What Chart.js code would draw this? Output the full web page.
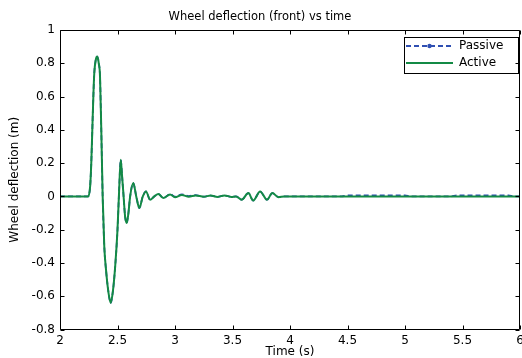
<!DOCTYPE html>
<html><head><meta charset="utf-8">
<script src="https://cdn.jsdelivr.net/npm/chart.js@4.4.0/dist/chart.umd.min.js"></script>
<style>html,body{margin:0;padding:0;background:#fff;overflow:hidden}</style>
</head><body>
<canvas id="c" width="522" height="358"></canvas>
<script>
const chartTitle = 'Wheel deflection (front) vs time';
const xTitle = 'Time (s)';
const yTitle = 'Wheel deflection (m)';
const seriesNames = ['Passive', 'Active'];
const xTicks = [2, 2.5, 3, 3.5, 4, 4.5, 5, 5.5, 6];
const yTicks = [-0.8, -0.6, -0.4, -0.2, 0, 0.2, 0.4, 0.6, 0.8, 1];

const times = [2.0, 2.245, 2.262, 2.272, 2.281, 2.29, 2.298, 2.311, 2.324, 2.337, 2.348, 2.359, 2.371,
  2.385, 2.40, 2.42, 2.441, 2.46, 2.48, 2.50, 2.515, 2.528, 2.54, 2.553, 2.566, 2.58, 2.595, 2.61,
  2.637, 2.663, 2.69, 2.72, 2.748, 2.783, 2.82, 2.855, 2.898, 2.957, 3.0, 3.06, 3.12, 3.18, 3.25,
  3.31, 3.37, 3.43, 3.49, 3.53, 3.58, 3.638, 3.68, 3.74, 3.80, 3.846, 3.90, 3.95, 4.45, 4.5, 5.0,
  5.05, 5.4, 5.45, 5.9, 5.95, 6.0];
const active = [0, 0, 0.06, 0.2, 0.4, 0.6, 0.74, 0.82, 0.84, 0.8, 0.72, 0.4, 0,
  -0.3, -0.44, -0.57, -0.64, -0.57, -0.42, -0.2, 0.05, 0.22, 0.12, 0, -0.12, -0.16, -0.1, 0,
  0.08, 0, -0.07, 0, 0.03, -0.02, 0, 0.015, -0.01, 0.012, -0.005, 0.008, -0.002, 0.006, -0.002,
  0.005, -0.003, 0.006, -0.003, 0, -0.02, 0.02, -0.025, 0.03, -0.02, 0.02, -0.005, 0, 0, 0, 0,
  0, 0, 0, 0, 0, 0];
const passive = [0, 0, 0.06, 0.2, 0.4, 0.6, 0.74, 0.82, 0.84, 0.8, 0.72, 0.4, 0,
  -0.3, -0.44, -0.57, -0.64, -0.57, -0.42, -0.2, 0.05, 0.22, 0.12, 0, -0.12, -0.16, -0.1, 0,
  0.08, 0, -0.07, 0, 0.03, -0.02, 0, 0.015, -0.01, 0.014, -0.002, 0.012, 0.002, 0.008, -0.002,
  0.005, -0.003, 0.006, -0.003, 0, -0.02, 0.02, -0.025, 0.03, -0.02, 0.02, -0.005, 0, 0, 0.006, 0.006,
  0, 0, 0.006, 0.006, 0, 0];

Chart.defaults.font.family = 'DejaVu Sans';
Chart.defaults.color = '#000';

const blue = '#2f4fb2';
const green = '#138a45';

const framePlugin = {
  id: 'frame',
  afterLayout(chart) {
    const lg = chart.legend, a = chart.chartArea;
    if (!lg) return;
    const pad = 5;
    lg.left = a.right - 114 - pad;
    lg.right = a.right;
    lg.width = lg.right - lg.left;
    lg.top = a.top + 10 - pad;
    lg.bottom = lg.top + 60;
    lg.height = 60;
  },
  afterDatasetsDraw(chart) {
    const {ctx, chartArea: a, scales: {x, y}} = chart;
    ctx.save();
    ctx.strokeStyle = '#000';
    ctx.lineWidth = 1;
    const L = Math.round(a.left) + 0.5, R = Math.round(a.right) - 0.5;
    const T = Math.round(a.top) + 0.5, B = Math.round(a.bottom) - 0.5;
    ctx.beginPath();
    ctx.rect(L, T, R - L, B - T);
    const tl = 4;
    xTicks.forEach(v => {
      const px = Math.round(x.getPixelForValue(v)) + 0.5;
      ctx.moveTo(px, B); ctx.lineTo(px, B - tl);
      ctx.moveTo(px, T); ctx.lineTo(px, T + tl);
    });
    yTicks.forEach(v => {
      const py = Math.round(y.getPixelForValue(v)) + 0.5;
      ctx.moveTo(L, py); ctx.lineTo(L + tl, py);
      ctx.moveTo(R, py); ctx.lineTo(R - tl, py);
    });
    ctx.stroke();
    ctx.restore();
  },
  afterDraw(chart) {
    const lg = chart.legend;
    if (!lg || !lg.legendHitBoxes || lg.legendHitBoxes.length < 2) return;
    const {ctx} = chart;
    const hb = lg.legendHitBoxes;
    const a = chart.chartArea;
    ctx.save();
    ctx.strokeStyle = '#000';
    ctx.lineWidth = 1;
    const fl = Math.round(hb[0].left - 2) + 0.5;
    const ft = Math.round(hb[0].top - 3) + 0.5;
    const fb = Math.round(hb[1].top + hb[1].height + 4) + 0.5;
    const fr = Math.round(a.right - 2) + 0.5;
    ctx.strokeRect(fl, ft, fr - fl, fb - ft);
    // marker dot on the passive legend line
    ctx.fillStyle = blue;
    ctx.beginPath();
    ctx.arc(hb[0].left + 47 / 2, hb[0].top + 6, 2.2, 0, Math.PI * 2);
    ctx.fill();
    ctx.restore();
  }
};

new Chart(document.getElementById('c'), {
  type: 'line',
  data: {
    datasets: [
      {
        label: seriesNames[0],
        data: times.map((t, i) => ({x: t, y: passive[i]})),
        borderColor: blue,
        backgroundColor: blue,
        borderWidth: 1.8,
        borderDash: [5, 3],
        pointRadius: 0,
        cubicInterpolationMode: 'monotone',
        order: 1
      },
      {
        label: seriesNames[1],
        data: times.map((t, i) => ({x: t, y: active[i]})),
        borderColor: green,
        backgroundColor: green,
        borderWidth: 2,
        pointRadius: 0,
        cubicInterpolationMode: 'monotone',
        order: 0
      }
    ]
  },
  options: {
    responsive: false,
    animation: false,
    devicePixelRatio: 1,
    layout: {padding: {left: 0, right: 2, top: 0, bottom: 0}},
    plugins: {
      title: {
        display: true,
        text: chartTitle,
        color: '#000',
        font: {family: 'DejaVu Sans', size: 11.5, weight: 'normal', lineHeight: 1.2},
        padding: {top: 10.5, bottom: 5.7}
      },
      legend: {
        position: 'chartArea',
        align: 'start',
        labels: {
          usePointStyle: true,
          pointStyle: 'line',
          pointStyleWidth: 47,
          padding: 5,
          color: '#000',
          font: {family: 'DejaVu Sans', size: 12},
          sort: (a, b) => a.datasetIndex - b.datasetIndex,
          generateLabels: (chart) => {
            const items = Chart.defaults.plugins.legend.labels.generateLabels(chart);
            items.forEach(it => {
              const ds = chart.data.datasets[it.datasetIndex];
              it.strokeStyle = ds.borderColor;
              it.fillStyle = ds.borderColor;
              it.lineWidth = ds.borderWidth;
              it.lineDash = ds.borderDash || [];
              it.pointStyle = 'line';
            });
            return items;
          }
        }
      },
      tooltip: {enabled: false}
    },
    scales: {
      x: {
        type: 'linear',
        min: 2, max: 6,
        grid: {display: false, drawTicks: false},
        border: {display: false},
        afterBuildTicks: s => { s.ticks = xTicks.map(v => ({value: v})); },
        ticks: {padding: 4, maxRotation: 0, autoSkip: false, font: {size: 12}, color: '#000', callback: v => String(v)},
        title: {display: true, text: xTitle, color: '#000', font: {size: 12, lineHeight: 1}, padding: {top: 0, bottom: 0}},
        afterFit: s => { s.height = 28.5; s.paddingLeft = 0; s.paddingRight = 0; }
      },
      y: {
        type: 'linear',
        min: -0.8, max: 1,
        grid: {display: false, drawTicks: false},
        border: {display: false},
        afterBuildTicks: s => { s.ticks = yTicks.map(v => ({value: v})); },
        ticks: {padding: 5, autoSkip: false, font: {size: 12}, color: '#000', callback: v => String(v)},
        title: {display: true, text: yTitle, color: '#000', font: {size: 12, lineHeight: 1.2}, padding: {top: 8, bottom: 0}},
        afterFit: s => { s.width = 60; s.paddingTop = 0; s.paddingBottom = 0; }
      }
    }
  },
  plugins: [framePlugin]
});
</script>
</body></html>
